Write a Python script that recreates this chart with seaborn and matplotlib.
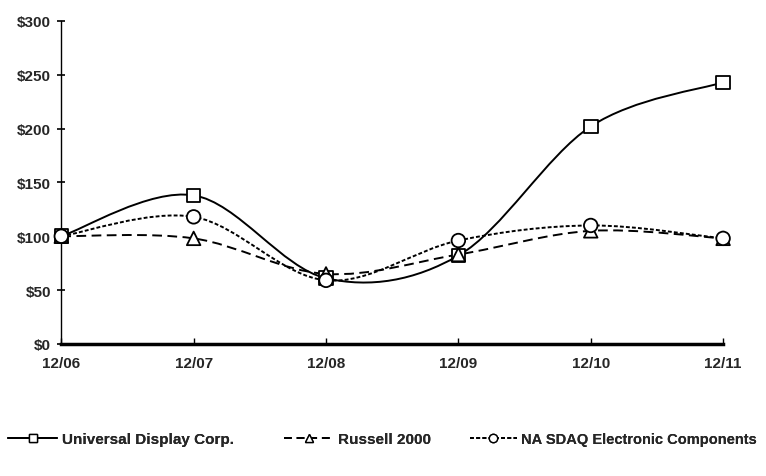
import pandas as pd
import matplotlib
matplotlib.use("Agg")
import matplotlib.pyplot as plt
import seaborn as sns
import numpy as np
from matplotlib.path import Path
from matplotlib.patches import PathPatch
from matplotlib.lines import Line2D

# data
periods = ["12/06", "12/07", "12/08", "12/09", "12/10", "12/11"]
udc = [100, 138, 61, 82, 202, 243]
russell = [100, 98, 65, 83, 105, 98]
nasdaq = [100, 118, 59, 96, 110, 98]
series_names = ["Universal Display Corp.", "Russell 2000", "NASDAQ Electronic Components"]
legend_labels = ["Universal Display Corp.", "Russell 2000", "NA SDAQ Electronic Components"]
y_ticks = [0, 50, 100, 150, 200, 250, 300]


def smooth_path(xs, ys):
    # excel-like smoothed line: catmull-rom drawn as cubic bezier segments
    pts = np.column_stack([xs, ys]).astype(float)
    verts = [pts[0]]
    codes = [Path.MOVETO]
    n = len(pts)
    for i in range(n - 1):
        p0 = pts[max(i - 1, 0)]
        p1 = pts[i]
        p2 = pts[i + 1]
        p3 = pts[min(i + 2, n - 1)]
        c1 = p1 + (p2 - p0) / 6.0
        c2 = p2 - (p3 - p1) / 6.0
        verts += [c1, c2, p2]
        codes += [Path.CURVE4] * 3
    return Path(verts, codes)


def main():
    sns.set_style("white")
    plt.rcParams["font.family"] = ["Liberation Sans", "DejaVu Sans"]
    plt.rcParams["font.weight"] = "bold"

    x = np.arange(len(periods))
    df = pd.DataFrame({
        "x": np.tile(x, 3),
        "value": udc + russell + nasdaq,
        "series": np.repeat(series_names, len(periods)),
    })

    fig = plt.figure(figsize=(7.66, 4.77), dpi=100)
    ax = fig.add_axes([0.08, 0.277, 0.864, 0.677])

    styles = {
        "Universal Display Corp.": "-",
        "Russell 2000": (0, (5, 2.8)),
        "NASDAQ Electronic Components": (0, (2, 1.1)),
    }
    markers = {
        "Universal Display Corp.": "s",
        "Russell 2000": "^",
        "NASDAQ Electronic Components": "o",
    }

    for name, vals in zip(series_names, [udc, russell, nasdaq]):
        patch = PathPatch(smooth_path(x, vals), facecolor="none", edgecolor="black",
                          lw=1.4, linestyle=styles[name], zorder=2)
        ax.add_patch(patch)

    sns.scatterplot(data=df, x="x", y="value", hue="series", style="series",
                    markers=markers, palette=["white"] * 3, edgecolor="black",
                    linewidth=1.3, s=95, legend=False, ax=ax, zorder=3, clip_on=False)

    ax.set_xlim(0, 5)
    ax.set_ylim(0, 300)
    ax.set_xticks(x)
    ax.set_xticklabels(periods)
    ax.set_yticks(y_ticks)
    ax.set_yticklabels([f"${v}" for v in y_ticks])
    ax.set_xlabel("")
    ax.set_ylabel("")
    for lab in ax.get_xticklabels() + ax.get_yticklabels():
        lab.set_fontweight("bold")
        lab.set_fontsize(11)

    sns.despine(ax=ax)
    ax.spines["left"].set_linewidth(1.0)
    ax.spines["bottom"].set_linewidth(2.5)
    ax.spines["left"].set_color("black")
    ax.spines["bottom"].set_color("black")
    ax.tick_params(axis="y", direction="inout", length=6, width=1.2, color="black", pad=4.5,
                   left=True)
    ax.tick_params(axis="x", direction="in", length=4, width=1, color="black", pad=9,
                   bottom=True)

    handles = [
        Line2D([], [], color="black", lw=1.4, ls="-", marker="s", markersize=6,
               markerfacecolor="white", markeredgecolor="black"),
        Line2D([], [], color="black", lw=1.4, ls=(0, (4, 2.5)), marker="^", markersize=6,
               markerfacecolor="white", markeredgecolor="black"),
        Line2D([], [], color="black", lw=1.4, ls=(0, (2, 1.2)), marker="o", markersize=6,
               markerfacecolor="white", markeredgecolor="black"),
    ]
    # one legend per entry so each sits where it does in the reference
    anchors = [0.005, 0.365, 0.608]
    sizes = [11, 11, 10.5]
    for h, lab, ax0, fs in zip(handles, legend_labels, anchors, sizes):
        leg = fig.legend([h], [lab], loc="center left", bbox_to_anchor=(ax0, 0.077),
                         frameon=False, handlelength=3.2, handletextpad=0.3,
                         borderaxespad=0, borderpad=0.3,
                         prop={"weight": "bold", "size": fs})
        fig.add_artist(leg)

    fig.savefig("out.png", dpi=100, facecolor="white")


main()
